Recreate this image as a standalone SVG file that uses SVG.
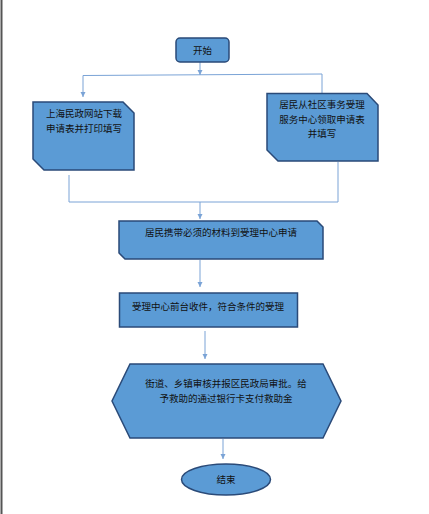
<svg xmlns="http://www.w3.org/2000/svg" width="429" height="514" viewBox="0 0 429 514">
<defs>
<marker id="ah" markerWidth="6" markerHeight="6" refX="5" refY="3" orient="auto" markerUnits="userSpaceOnUse">
<path d="M0,0.5 L5,3 L0,5.5 Z" fill="#7aa3d6"/>
</marker>
</defs>
<style>
.n{fill:#5b9bd5;stroke:#2a4a78;stroke-width:1.5}
.c{fill:none;stroke:#7aa3d6;stroke-width:1}
.t{font-family:"Noto Sans CJK SC","Noto Sans CJK TC",sans-serif;font-size:9.5px;fill:#111;text-anchor:middle}
</style>
<rect width="429" height="514" fill="#fff"/>
<line x1="1.5" y1="0" x2="1.5" y2="514" stroke="#555" stroke-width="2"/>
<g id="connectors">
<line class="c" x1="200" y1="62" x2="200" y2="75" marker-end="url(#ah)"/>
<polyline class="c" points="83,75.5 322,74 322,93"/>
<line class="c" x1="83" y1="75.5" x2="83" y2="97" marker-end="url(#ah)"/>
<polyline class="c" points="69,175 69,202 338,202 338,162"/>
<line class="c" x1="200" y1="202" x2="200" y2="219" marker-end="url(#ah)"/>
<line class="c" x1="200" y1="260" x2="200" y2="287" marker-end="url(#ah)"/>
<line class="c" x1="205" y1="331" x2="205" y2="359" marker-end="url(#ah)"/>
<line class="c" x1="223" y1="439" x2="223" y2="459" marker-end="url(#ah)"/>
</g>
<g id="start">
<rect class="n" x="176" y="38" width="53" height="24" rx="4"/>
<text class="t" x="202.5" y="53.5">开始</text>
</g>
<g id="download">
<path class="n" d="M33,102 L123,102 L134,113 L134,170 L44,170 L33,159 Z"/>
<text class="t" x="84" y="116.5">上海民政网站下载</text>
<text class="t" x="84" y="131.5">申请表并打印填写</text>
</g>
<g id="community">
<path class="n" d="M267,93.5 L367,93.5 L378,105 L378,161 L278,161 L267,150 Z"/>
<text class="t" x="322" y="108">居民从社区事务受理</text>
<text class="t" x="322" y="122.5">服务中心领取申请表</text>
<text class="t" x="322" y="137">并填写</text>
</g>
<g id="apply">
<path class="n" d="M119,221 L317,221 L323,227 L323,259 L125,259 L119,253 Z"/>
<text class="t" x="221" y="235.5">居民携带必须的材料到受理中心申请</text>
</g>
<g id="accept">
<rect class="n" x="119.5" y="293" width="178" height="34"/>
<text class="t" x="208" y="309.5">受理中心前台收件，符合条件的受理</text>
</g>
<g id="review">
<path class="n" d="M130,364 L323,364 L341,401 L323,438 L130,438 L112,401 Z"/>
<text class="t" x="226" y="386.5">街道、乡镇审核并报区民政局审批。给</text>
<text class="t" x="226" y="401.5">予救助的通过银行卡支付救助金</text>
</g>
<g id="end">
<ellipse class="n" cx="226" cy="479.5" rx="44.5" ry="15.5"/>
<text class="t" x="226" y="482.5">结束</text>
</g>
</svg>
